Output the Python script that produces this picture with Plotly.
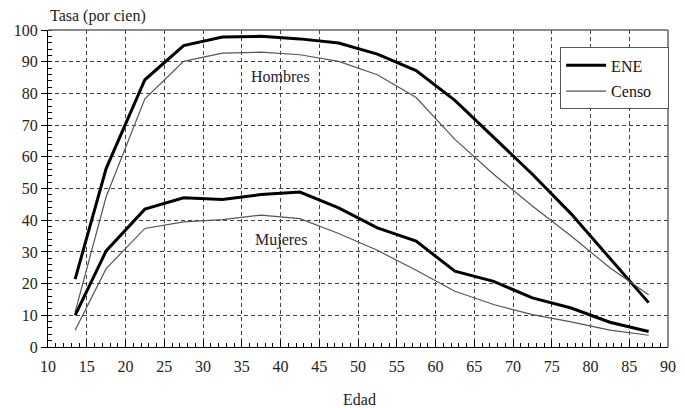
import plotly.graph_objects as go

edad = [13.5, 17.5, 22.5, 27.5, 32.5, 37.5, 42.5, 47.5, 52.5, 57.5, 62.5, 67.5, 72.5, 77.5, 82.5, 87.5]

hombres_ene = [21.4, 56.3, 84.3, 95.1, 97.8, 98.0, 97.2, 95.9, 92.4, 87.2, 77.8, 66.0, 54.5, 42.0, 28.0, 14.0]
hombres_censo = [11.0, 47.4, 78.3, 90.1, 92.7, 93.0, 92.2, 90.1, 85.9, 78.7, 65.5, 54.5, 44.5, 35.0, 25.0, 16.5]
mujeres_ene = [10.0, 30.3, 43.5, 47.1, 46.5, 48.1, 48.9, 43.9, 37.6, 33.4, 23.9, 20.7, 15.5, 12.3, 7.8, 4.9]
mujeres_censo = [5.3, 24.7, 37.4, 39.5, 40.2, 41.6, 40.5, 35.8, 30.5, 24.2, 17.6, 13.4, 10.2, 7.9, 5.3, 3.7]

x_ticks = list(range(10, 95, 5))
y_ticks = list(range(0, 110, 10))

FONT = "Liberation Serif"
GRID = "#444444"

fig = go.Figure()
fig.add_trace(go.Scatter(x=edad, y=hombres_ene, mode="lines", name="ENE", legendgroup="ENE",
                         line=dict(color="#000000", width=3)))
fig.add_trace(go.Scatter(x=edad, y=hombres_censo, mode="lines", name="Censo\u00a0\u00a0\u00a0", legendgroup="Censo",
                         line=dict(color="#555555", width=1.2)))
fig.add_trace(go.Scatter(x=edad, y=mujeres_ene, mode="lines", name="ENE", legendgroup="ENE",
                         showlegend=False, line=dict(color="#000000", width=3)))
fig.add_trace(go.Scatter(x=edad, y=mujeres_censo, mode="lines", name="Censo", legendgroup="Censo",
                         showlegend=False, line=dict(color="#555555", width=1.2)))

fig.update_layout(
    width=685, height=408,
    margin=dict(l=48, r=9, t=30, b=61),
    paper_bgcolor="white", plot_bgcolor="white",
    font=dict(family=FONT, size=16, color="#222222"),
    showlegend=True,
    legend=dict(x=0.826, y=0.945, xanchor="left", yanchor="top",
                bgcolor="white", bordercolor="#555555", borderwidth=1,
                font=dict(family=FONT, size=16, color="#111111"),
                tracegroupgap=2, itemwidth=40),
    xaxis=dict(range=[10, 90], tickmode="array", tickvals=x_ticks, ticktext=[str(v) for v in x_ticks],
               showgrid=True, gridcolor=GRID, griddash="4px,3px", gridwidth=1,
               showline=True, linecolor="#000000", linewidth=1,
               ticks="inside", ticklen=7, tickcolor="#000000",
               minor=dict(dtick=1, ticks="inside", ticklen=4, tickcolor="#000000", showgrid=False),
               zeroline=False, ticklabelstandoff=5),
    yaxis=dict(range=[0, 100], tickmode="array", tickvals=y_ticks, ticktext=[str(v) for v in y_ticks],
               showgrid=True, gridcolor=GRID, griddash="4px,3px", gridwidth=1,
               showline=True, linecolor="#000000", linewidth=1,
               ticks="outside", ticklen=6, tickcolor="#000000",
               minor=dict(dtick=2, ticks="inside", ticklen=4, tickcolor="#000000", showgrid=False),
               zeroline=False),
    shapes=[
        dict(type="line", xref="paper", yref="paper", x0=0, x1=1, y0=1, y1=1,
             line=dict(color="#666666", width=1.5)),
        dict(type="line", xref="paper", yref="paper", x0=1, x1=1, y0=0, y1=1,
             line=dict(color="#666666", width=1.5)),
    ],
    annotations=[
        dict(text="Tasa (por cien)", xref="paper", yref="paper", x=0.0, y=1.0,
             xanchor="left", yanchor="bottom", yshift=3, showarrow=False,
             font=dict(family=FONT, size=16, color="#222222")),
        dict(text="Edad", xref="paper", yref="paper", x=0.502, y=-0.166,
             xanchor="center", yanchor="middle", showarrow=False,
             font=dict(family=FONT, size=16, color="#222222")),
        dict(text="Hombres", x=40.0, y=85.2, xref="x", yref="y", showarrow=False,
             font=dict(family=FONT, size=16, color="#222233")),
        dict(text="Mujeres", x=40.0, y=33.6, xref="x", yref="y", showarrow=False,
             font=dict(family=FONT, size=16, color="#222233")),
    ],
)

fig.write_html("out.html")
